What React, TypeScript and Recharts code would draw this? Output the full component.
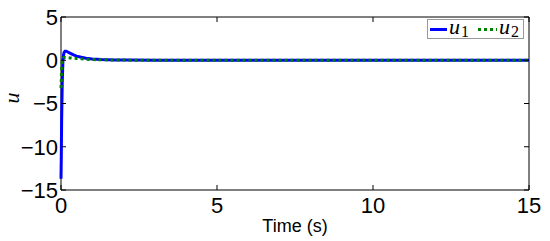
import React from "react"
import { LineChart, Line, XAxis, YAxis, ReferenceArea } from "recharts"

const time = [0, 0.01, 0.02, 0.04, 0.06, 0.08, 0.1, 0.13, 0.17, 0.22, 0.3, 0.4, 0.5, 0.65, 0.8, 1.0, 1.3, 1.7, 2.2, 3, 5, 8, 12, 15]
const u1 = [-13.7, -11, -7, -2.5, -0.2, 0.6, 0.9, 1.05, 1.05, 0.95, 0.8, 0.62, 0.48, 0.34, 0.24, 0.15, 0.08, 0.04, 0.02, 0.01, 0, 0, 0, 0]
const u2 = [-3.2, -2.2, -1.0, 0.0, 0.25, 0.32, 0.33, 0.33, 0.32, 0.3, 0.27, 0.23, 0.2, 0.16, 0.12, 0.08, 0.05, 0.03, 0.01, 0, 0, 0, 0, 0]
const xTicks = [0, 5, 10, 15]
const yTicks = [-15, -10, -5, 0, 5]

const data = time.map((t, i) => ({ t, u1: u1[i], u2: u2[i] }))

const W = 550, H = 241
const M = { top: 17, right: 21, bottom: 0, left: 0 }
const Y_AXIS_W = 61
const X_AXIS_H = 51
const PLOT_TOP = M.top
const PLOT_BOTTOM = H - M.bottom - X_AXIS_H
const PLOT_LEFT = M.left + Y_AXIS_W
const PLOT_RIGHT = W - M.right
const TICK = 5
const font = "'Liberation Sans', Arial, sans-serif"
const serif = "'Liberation Serif', 'Times New Roman', serif"

const fmt = (v: number) => (v < 0 ? "\u2212" + Math.abs(v) : String(v))

function XTick({ x, y, payload }: any) {
  return (
    <g>
      <line x1={x} x2={x} y1={PLOT_BOTTOM} y2={PLOT_BOTTOM - TICK} stroke="#000" />
      <line x1={x} x2={x} y1={PLOT_TOP} y2={PLOT_TOP + TICK} stroke="#000" />
      <text x={x} y={y} dy="0.71em" textAnchor="middle" fontSize={22} fontFamily={font} fill="#000">
        {fmt(payload.value)}
      </text>
    </g>
  )
}

function YTick({ x, y, payload }: any) {
  return (
    <g>
      <line x1={PLOT_LEFT} x2={PLOT_LEFT + TICK} y1={y} y2={y} stroke="#000" />
      <line x1={PLOT_RIGHT} x2={PLOT_RIGHT - TICK} y1={y} y2={y} stroke="#000" />
      <text x={x} y={y} dy="0.36em" textAnchor="end" fontSize={22} fontFamily={font} fill="#000">
        {fmt(payload.value)}
      </text>
    </g>
  )
}

// legend box in the top right corner of the axes
function LegendBox() {
  return (
    <svg width={97} height={20} style={{ display: "block", overflow: "visible" }}>
      <rect x={0.5} y={0.5} width={96} height={19} fill="#fff" stroke="#999" />
      <line x1={3} x2={20} y1={10.5} y2={10.5} stroke="#0000ff" strokeWidth={3} />
      <text x={22} y={15} fontFamily={serif} fontStyle="italic" fontSize={22}>u</text>
      <text x={34} y={18} fontFamily={serif} fontSize={16}>1</text>
      <line x1={51} x2={70} y1={10.5} y2={10.5} stroke="#008000" strokeWidth={3} strokeDasharray="3 3" />
      <text x={72} y={15} fontFamily={serif} fontStyle="italic" fontSize={22}>u</text>
      <text x={84} y={18} fontFamily={serif} fontSize={16}>2</text>
    </svg>
  )
}

export default function App() {
  return (
    <div style={{ position: "absolute", left: 0, top: 0, width: W, height: H, background: "#fff" }}>
      <LineChart width={W} height={H} data={data} margin={M}>
        <XAxis
          dataKey="t" type="number" domain={[0, 15]} ticks={xTicks}
          axisLine={false} tickLine={false} tickSize={0} tickMargin={7}
          height={X_AXIS_H} tick={<XTick />} interval={0}
          label={{ value: "Time (s)", position: "insideBottom", offset: 9, fontSize: 18, fontFamily: font, fill: "#000" }}
        />
        <YAxis
          type="number" domain={[-15, 5]} ticks={yTicks}
          axisLine={false} tickLine={false} tickSize={0} tickMargin={3}
          width={Y_AXIS_W} tick={<YTick />} interval={0}
          label={{ value: "u", angle: -90, position: "insideLeft", offset: 11, fontSize: 22, fontStyle: "italic", fontFamily: serif, fill: "#000" }}
        />
        <ReferenceArea x1={0} x2={15} y1={-15} y2={5} fill="none" stroke="#000" strokeWidth={1} />
        <Line dataKey="u1" type="linear" stroke="#0000ff" strokeWidth={3} dot={false} isAnimationActive={false} />
        <Line dataKey="u2" type="linear" stroke="#008000" strokeWidth={3} strokeDasharray="3 3" dot={false} isAnimationActive={false} />
      </LineChart>
      <div style={{ position: "absolute", left: 427, top: 19 }}>
        <LegendBox />
      </div>
    </div>
  )
}
